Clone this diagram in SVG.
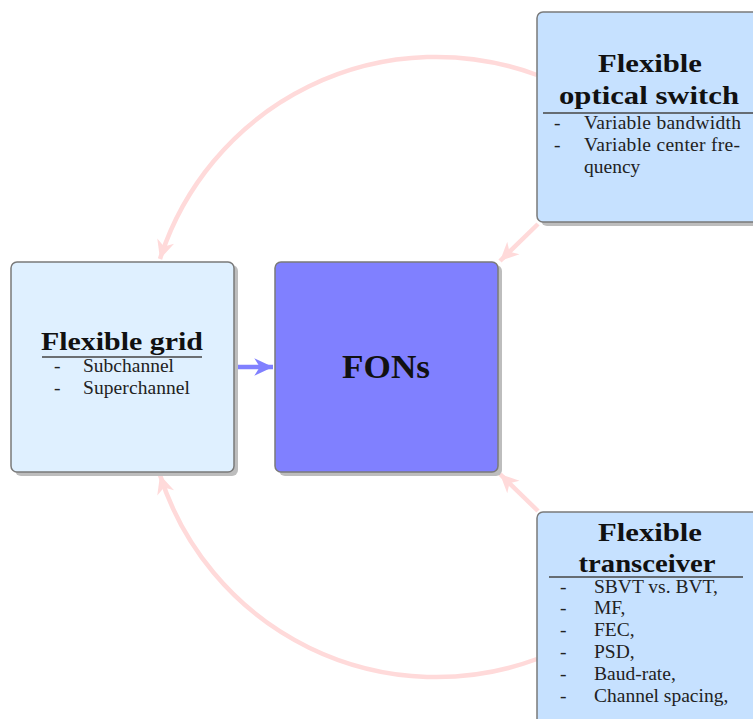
<svg xmlns="http://www.w3.org/2000/svg" width="753" height="719" viewBox="0 0 753 719">
<style>
.box{stroke:#7a7a7a;stroke-width:1.5}
.shadow{fill:#bdbdbd}
.title{font-family:"Liberation Serif","DejaVu Serif",serif;font-weight:bold;font-size:25px;fill:#111;text-anchor:middle}
.body{font-family:"Liberation Serif","DejaVu Serif",serif;font-size:19.5px;fill:#222}
.rule{stroke:#444;stroke-width:1.5}
.pink{fill:none;stroke:#ffdada;stroke-width:4.5}
.blue{fill:none;stroke:#8080ff;stroke-width:4.5}
</style>
<defs>
<marker id="ahPink" markerUnits="userSpaceOnUse" markerWidth="22" markerHeight="22" viewBox="-18 -9 20 18" refX="0" refY="0" orient="auto">
<path d="M0,0 L-17,-8 L-12,0 L-17,8 Z" fill="#ffdada"/>
</marker>
<marker id="ahBlue" markerUnits="userSpaceOnUse" markerWidth="22" markerHeight="22" viewBox="-18 -9 20 18" refX="0" refY="0" orient="auto">
<path d="M0,0 L-17,-8 L-12,0 L-17,8 Z" fill="#8080ff"/>
</marker>
</defs>

<g id="connectors">
<path class="pink" d="M537,75 A290,290 0 0 0 160,259" marker-end="url(#ahPink)"/>
<path class="pink" d="M537,659 A290,290 0 0 1 160,475" marker-end="url(#ahPink)"/>
<path class="pink" d="M538,224 L500,261" marker-end="url(#ahPink)"/>
<path class="pink" d="M538,511 L500,474" marker-end="url(#ahPink)"/>
<path class="blue" d="M235,367 L273,367" marker-end="url(#ahBlue)"/>
</g>

<g id="grid">
<rect class="shadow" x="15" y="265" width="223" height="211" rx="6"/>
<rect class="box" x="11" y="262" width="223" height="210" rx="6" fill="#dff0ff"/>
<text class="title" x="122" y="350" textLength="162" lengthAdjust="spacingAndGlyphs">Flexible grid</text>
<line class="rule" x1="42" y1="357" x2="202" y2="357"/>
<text class="body" x="54" y="372">-</text><text class="body" x="83" y="372">Subchannel</text>
<text class="body" x="54" y="394">-</text><text class="body" x="83" y="394" textLength="107">Superchannel</text>
</g>

<g id="fons">
<rect class="shadow" x="279" y="265" width="223" height="211" rx="6"/>
<rect class="box" x="275" y="262" width="223" height="210" rx="6" fill="#8080ff"/>
<text class="title" x="386" y="378" style="font-size:33px" textLength="88" lengthAdjust="spacingAndGlyphs">FONs</text>
</g>

<g id="switch">
<rect class="shadow" x="541" y="15" width="230" height="211" rx="6"/>
<rect class="box" x="537" y="12" width="230" height="210" rx="6" fill="#c6e1ff"/>
<text class="title" x="650" y="72" textLength="104" lengthAdjust="spacingAndGlyphs">Flexible</text>
<text class="title" x="649" y="104" textLength="180" lengthAdjust="spacingAndGlyphs">optical switch</text>
<line class="rule" x1="543" y1="113" x2="753" y2="113"/>
<text class="body" x="554" y="129">-</text><text class="body" x="584" y="129" textLength="157">Variable bandwidth</text>
<text class="body" x="554" y="151">-</text><text class="body" x="584" y="151" textLength="156">Variable center fre-</text>
<text class="body" x="584" y="173">quency</text>
</g>

<g id="transceiver">
<rect class="shadow" x="541" y="515" width="230" height="211" rx="6"/>
<rect class="box" x="537" y="512" width="230" height="215" rx="6" fill="#c6e1ff"/>
<text class="title" x="650" y="541" textLength="104" lengthAdjust="spacingAndGlyphs">Flexible</text>
<text class="title" x="647" y="572" textLength="137" lengthAdjust="spacingAndGlyphs">transceiver</text>
<line class="rule" x1="549" y1="577" x2="743" y2="577"/>
<text class="body" x="560" y="593">-</text><text class="body" x="594" y="593">SBVT vs. BVT,</text>
<text class="body" x="560" y="614">-</text><text class="body" x="594" y="614">MF,</text>
<text class="body" x="560" y="636">-</text><text class="body" x="594" y="636">FEC,</text>
<text class="body" x="560" y="658">-</text><text class="body" x="594" y="658">PSD,</text>
<text class="body" x="560" y="680">-</text><text class="body" x="594" y="680">Baud-rate,</text>
<text class="body" x="560" y="702">-</text><text class="body" x="594" y="702">Channel spacing,</text>
</g>
</svg>
